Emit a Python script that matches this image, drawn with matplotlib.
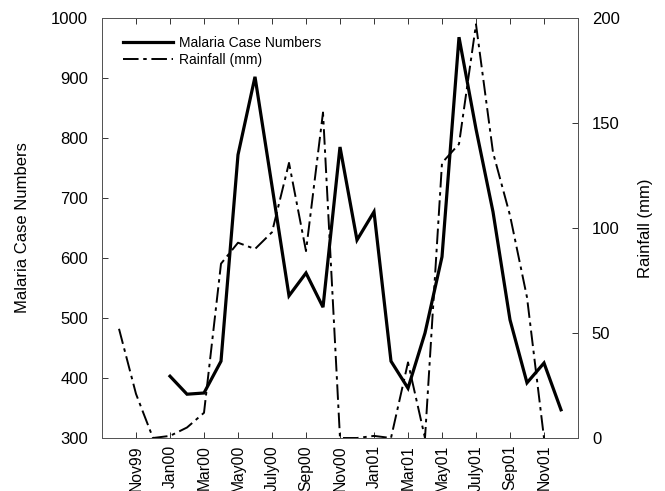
import numpy as np
import matplotlib
matplotlib.use("Agg")
import matplotlib.pyplot as plt

plt.rcParams['font.family'] = ['Liberation Sans', 'DejaVu Sans']

# Months from Sep99 (index 0) to Jan02 (index 28)
months = ["Sep99", "Oct99", "Nov99", "Dec99", "Jan00", "Feb00", "Mar00", "Apr00",
          "May00", "Jun00", "July00", "Aug00", "Sep00", "Oct00", "Nov00", "Dec00",
          "Jan01", "Feb01", "Mar01", "Apr01", "May01", "Jun01", "July01", "Aug01",
          "Sep01", "Oct01", "Nov01", "Dec01", "Jan02"]
nan = np.nan
malaria_cases = [nan, nan, nan, nan, 403, 373, 375, 428,
                 772, 902, 720, 537, 575, 518, 785, 630,
                 677, 428, 383, 475, 602, 968, 815, 677,
                 497, 392, 425, 347, nan]
rainfall_mm = [nan, 52, 21, 0, 1, 5, 12, 83,
               93, 90, 98, 131, 89, 155, 0, 0,
               1, 0, 36, 0, 131, 140, 197, 136,
               106, 67, 0, nan, nan]
tick_labels = ["Nov99", "Jan00", "Mar00", "May00", "July00", "Sep00", "Nov00",
               "Jan01", "Mar01", "May01", "July01", "Sep01", "Nov01"]

x = np.arange(len(months))
tick_pos = [months.index(t) for t in tick_labels]

fig = plt.figure(figsize=(6.65, 4.91), dpi=100)
ax = fig.add_axes([102/665, 1-438/491, 476/665, 420/491])
ax2 = ax.twinx()

l1, = ax.plot(x, malaria_cases, color='black', lw=2.3, solid_joinstyle='miter',
              label='Malaria Case Numbers')
l2, = ax2.plot(x, rainfall_mm, color='black', lw=1.4,
               dashes=(8, 2.4, 1.8, 2.4), label='Rainfall (mm)')

ax.set_xlim(0, 28)
ax.set_ylim(300, 1000)
ax2.set_ylim(0, 200)
ax.set_yticks(range(300, 1001, 100))
ax2.set_yticks(range(0, 201, 50))
ax.set_xticks(tick_pos)
ax.set_xticklabels(tick_labels, rotation=90)

ax.tick_params(axis='y', direction='in', length=4, width=0.7, pad=10, labelsize=12, colors='#333333', labelcolor='black')
ax.tick_params(axis='x', direction='in', length=4, width=0.7, pad=5, labelsize=11.3, top=True, colors='#333333', labelcolor='black')
ax2.tick_params(axis='y', direction='in', length=4, width=0.7, pad=10, labelsize=12, colors='#333333', labelcolor='black')

for a in (ax, ax2):
    for s in a.spines.values():
        s.set_linewidth(0.7)
        s.set_color('#555555')

ax.set_ylabel('Malaria Case Numbers', fontsize=12)
ax.yaxis.set_label_coords(-0.151, 0.5)
ax2.set_ylabel('Rainfall (mm)', fontsize=12, rotation=90)
ax2.yaxis.set_label_coords(1.126, 0.5)

leg = ax.legend(handles=[l1, l2], loc='upper left', frameon=False, fontsize=10,
                handlelength=3.6, handletextpad=0.4, labelspacing=0.2,
                bbox_to_anchor=(0.033, 0.97), borderaxespad=0)

fig.savefig('out.png', dpi=100)
